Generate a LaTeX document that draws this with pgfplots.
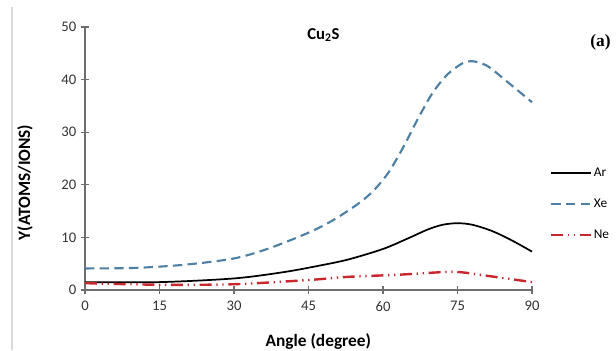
\documentclass[border=0pt]{standalone}
\usepackage{pgfplots}
\pgfplotsset{compat=1.18}
\usepackage{fontspec}
\setmainfont{Carlito}
\newfontfamily\serifb{Liberation Serif}
\definecolor{xecol}{RGB}{78,128,165}
\definecolor{necol}{RGB}{200,40,45}
\definecolor{axcol}{RGB}{110,110,110}
\begin{document}
\begin{tikzpicture}
\useasboundingbox (-63.75pt,-45pt) rectangle (398.25pt,217.5pt);
\draw[black!15, line width=0.8pt] (-54.75pt,-45pt) -- (-54.75pt,212pt);
\begin{axis}[
  at={(0pt,0pt)}, anchor=south west,
  scale only axis, width=335.25pt, height=197.25pt,
  xmin=0, xmax=90, ymin=0, ymax=50,
  axis x line*=bottom, axis y line*=left,
  xtick={0,15,...,90}, ytick={0,10,...,50},
  tick align=center, major tick length=6pt,
  axis line style={axcol, line width=1.1pt},
  tick style={axcol, line width=1pt},
  /pgf/number format/assume math mode=true,
  tick label style={font=\fontsize{11}{13}\selectfont, text=black!80},
  xticklabel style={yshift=-2pt},
  xlabel={Angle (degree)}, ylabel={Y(ATOMS/IONS)},
  label style={font=\bfseries\fontsize{13}{15}\selectfont},
  xlabel style={at={(axis description cs:0.522,0)}, anchor=center, yshift=-38.5pt},
  ylabel style={at={(axis description cs:-0.134,0.409)}, anchor=center},
  clip=false,
  legend style={at={(rel axis cs:1.04,0.472)}, anchor=north west, draw=none, fill=none,
    inner sep=0pt, row sep=13.5pt, font=\fontsize{10}{12}\selectfont,
    nodes={inner sep=1pt}},
  legend cell align=left,
  legend image code/.code={\draw[#1] (0pt,0pt) -- (30pt,0pt);},
]
\addplot[black, line width=1.3pt, smooth] coordinates {
 (0,1.5) (15,1.5) (30,2.2) (40,3.4) (47,4.6) (53,5.8) (60,7.8) (65,9.8)
 (69,11.5) (72,12.4) (75,12.7) (78,12.4) (82,11.2) (86,9.4) (90,7.3)};
\addlegendentry{Ar}
\addplot[xecol, line width=1.6pt, dash pattern=on 7pt off 4pt, smooth] coordinates {
 (0,4.1) (10,4.2) (20,4.8) (30,6.0) (37,7.9) (45,10.9) (50,13.3) (55,16.4)
 (58,18.8) (61,22.2) (64,27) (67,32.5) (70,37.5) (73,41) (76,43.1) (78,43.5)
 (81,42.6) (85,39.6) (90,35.7)};
\addlegendentry{Xe}
\addplot[necol, line width=1.8pt, dash pattern=on 9pt off 3.5pt on 1pt off 3.5pt on 1pt off 3.5pt, smooth] coordinates {
 (0,1.3) (15,1.0) (30,1.1) (45,1.9) (53,2.5) (63,2.9) (72,3.4) (75.5,3.4)
 (81,2.7) (90,1.5)};
\addlegendentry{Ne}
\node[font=\bfseries\fontsize{12.5}{14}\selectfont] at (axis cs:48,48.5) {Cu\textsubscript{2}S};
\node[font=\serifb\bfseries\fontsize{13}{15}\selectfont, anchor=west, inner sep=0pt] at (axis cs:101.7,47) {(a)};
\end{axis}
\end{tikzpicture}
\end{document}
